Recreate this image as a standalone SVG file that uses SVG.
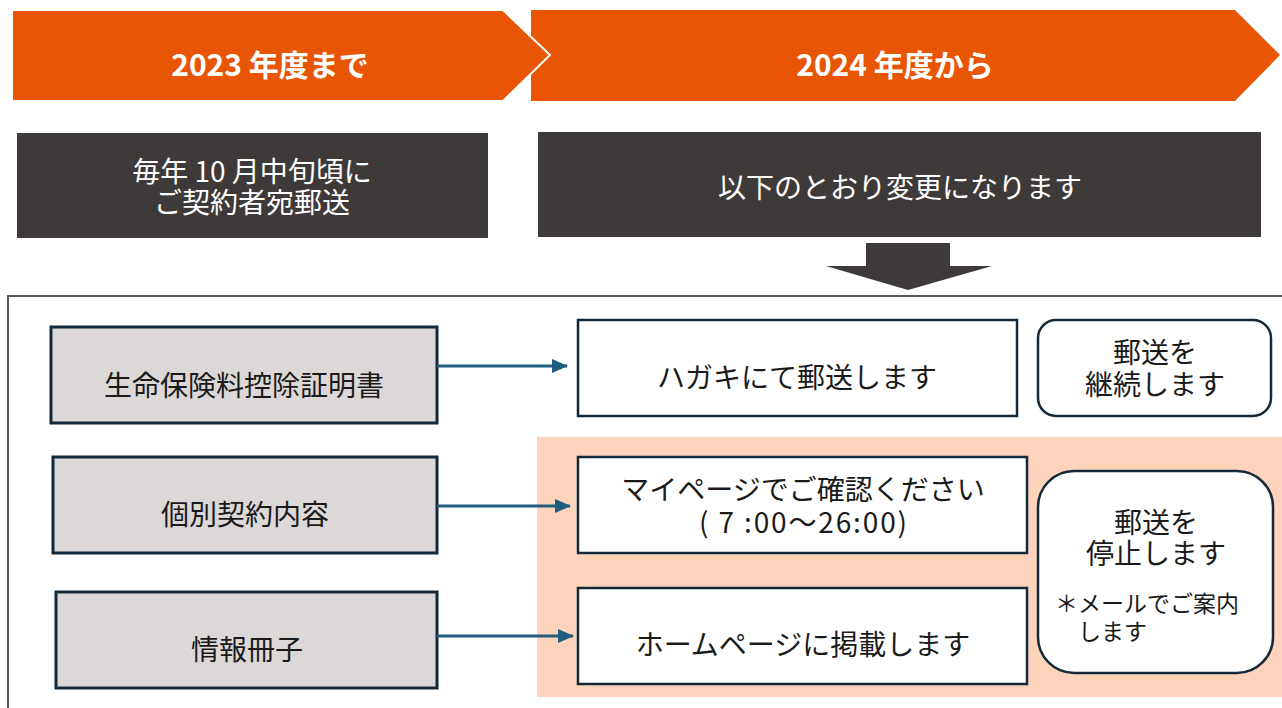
<svg xmlns="http://www.w3.org/2000/svg" width="1282" height="708" viewBox="0 0 1282 708">
<defs>
<style>
.t{font-family:"Noto Sans CJK JP","Noto Sans",sans-serif;}
.hdr{font-size:30px;font-weight:bold;fill:#fff;text-anchor:middle;}
.wt{font-size:28px;fill:#fff;text-anchor:middle;}
.bk{font-size:28px;fill:#1a1a1a;text-anchor:middle;}
.sm{font-size:23px;fill:#1a1a1a;}
.gray{fill:#DCD8D7;stroke:#14293A;stroke-width:3;}
.wbox{fill:#fff;stroke:#14293A;stroke-width:2.5;}
.dark{fill:#3E3A39;}
.conn{stroke:#1F5E80;stroke-width:3;fill:none;}
</style>
<marker id="ah" markerWidth="16" markerHeight="14" refX="15" refY="7" orient="auto" markerUnits="userSpaceOnUse" viewBox="0 0 16 14">
<path d="M0,0 L16,7 L0,14 Z" fill="#1F5E80"/>
</marker>
</defs>
<rect width="1282" height="708" fill="#fff"/>

<g id="header-2024">
<polygon points="531,10 1235,10 1280,55 1235,101 531,101" fill="#E85504"/>
<text class="t hdr" x="895" y="76">2024 年度から</text>
</g>
<g id="header-2023">
<polygon points="12,10 503,10 550,55 503,101 12,101" fill="#E85504" stroke="#fff" stroke-width="2"/>
<text class="t hdr" x="270" y="76">2023 年度まで</text>
</g>

<g id="before-box">
<rect class="dark" x="17" y="133" width="471" height="105"/>
<text class="t wt" x="252" y="182">毎年 10 月中旬頃に</text>
<text class="t wt" x="252" y="213">ご契約者宛郵送</text>
</g>
<g id="after-box">
<rect class="dark" x="538" y="132" width="723" height="105"/>
<text class="t wt" x="900" y="198">以下のとおり変更になります</text>
</g>
<g id="down-arrow">
<polygon class="dark" points="866,243 950,243 950,266 992,266 908,290 826,266 866,266"/>
</g>

<g id="frame">
<path d="M8,708 L8,296 L1282,296" fill="none" stroke="#595959" stroke-width="2"/>
</g>

<g id="peach-area">
<rect x="537" y="437" width="745" height="260" fill="#FDD3BB"/>
</g>

<g id="item-1">
<rect class="gray" x="51" y="327" width="386" height="96"/>
<text class="t bk" x="244" y="396">生命保険料控除証明書</text>
</g>
<g id="item-2">
<rect class="gray" x="53" y="457" width="384" height="96"/>
<text class="t bk" x="245" y="525">個別契約内容</text>
</g>
<g id="item-3">
<rect class="gray" x="56" y="592" width="381" height="96"/>
<text class="t bk" x="247" y="660">情報冊子</text>
</g>

<g id="result-1">
<rect class="wbox" x="578" y="320" width="439" height="96"/>
<text class="t bk" x="797" y="388">ハガキにて郵送します</text>
</g>
<g id="result-2">
<rect class="wbox" x="578" y="457" width="449" height="96"/>
<text class="t bk" x="803" y="500">マイページでご確認ください</text>
<text class="t bk" x="803" y="533" textLength="208" lengthAdjust="spacing">( 7 :00～26:00)</text>
</g>
<g id="result-3">
<rect class="wbox" x="578" y="588" width="449" height="96"/>
<text class="t bk" x="803" y="655">ホームページに掲載します</text>
</g>

<g id="note-continue">
<rect class="wbox" x="1038" y="320" width="233" height="96" rx="18"/>
<text class="t bk" x="1155" y="363">郵送を</text>
<text class="t bk" x="1155" y="395">継続します</text>
</g>
<g id="note-stop">
<rect class="wbox" x="1038" y="471" width="235" height="202" rx="36"/>
<text class="t bk" x="1156" y="533">郵送を</text>
<text class="t bk" x="1156" y="564">停止します</text>
<text class="t sm" x="1055" y="612">＊メールでご案内</text>
<text class="t sm" x="1078" y="640">します</text>
</g>

<g id="connectors">
<line class="conn" x1="437" y1="366" x2="567" y2="366" marker-end="url(#ah)"/>
<line class="conn" x1="437" y1="506" x2="570" y2="506" marker-end="url(#ah)"/>
<line class="conn" x1="437" y1="636" x2="573" y2="636" marker-end="url(#ah)"/>
</g>
</svg>
